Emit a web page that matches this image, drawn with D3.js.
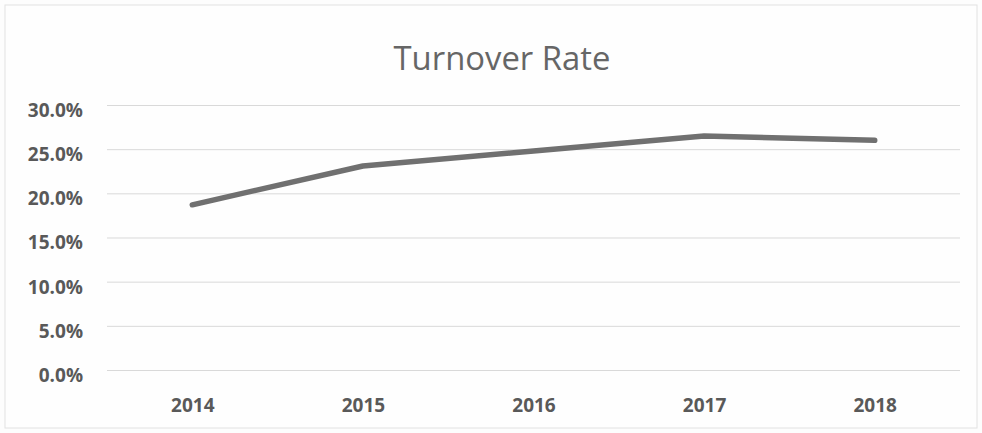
<!DOCTYPE html>
<html>
<head>
<meta charset="utf-8">
<script src="https://cdn.jsdelivr.net/npm/d3@7"></script>
<style>
  body { margin: 0; background: #fdfdfd; }
</style>
</head>
<body>
<div class="canvas"></div>
<script>
// data
const years = ['2014', '2015', '2016', '2017', '2018'];
const turnover = [0.187, 0.231, 0.248, 0.265, 0.260];
const yTicks = [0, 0.05, 0.10, 0.15, 0.20, 0.25, 0.30];

// 1. dimensions
const width = 982, height = 433;
const margin = {top: 105, right: 22, bottom: 63, left: 107};
const graphWidth = width - margin.left - margin.right;
const graphHeight = height - margin.top - margin.bottom;

// 2. svg
const svg = d3.select('.canvas')
    .append('svg')
    .attr('width', width)
    .attr('height', height)
    .style('font-family', '"Open Sans", sans-serif');

svg.append('rect')
    .attr('x', 5).attr('y', 5)
    .attr('width', width - 10).attr('height', height - 10)
    .attr('fill', '#fefefe')
    .attr('stroke', '#e2e2e2');

const graph = svg.append('g')
    .attr('transform', `translate(${margin.left},${margin.top})`);

// 3. scales
const x = d3.scalePoint().domain(years).range([0, graphWidth]).padding(0.5);
const y = d3.scaleLinear().domain([0, 0.30]).range([graphHeight, 0]);

// gridlines
graph.append('g')
    .call(d3.axisLeft(y).tickValues(yTicks).tickSize(-graphWidth).tickFormat(''))
    .call(g => g.select('.domain').remove())
    .call(g => g.selectAll('line').attr('stroke', '#d9d9d9').attr('stroke-width', 1));

// y labels
graph.append('g')
    .call(d3.axisLeft(y).tickValues(yTicks).tickSize(0).tickPadding(24).tickFormat(d3.format('.1%')))
    .call(g => g.select('.domain').remove())
    .call(g => g.selectAll('text')
        .attr('fill', '#595959')
        .attr('font-family', '"Open Sans", sans-serif')
        .attr('font-size', 19)
        .attr('font-weight', 700)
        .attr('dy', '0.6em'));

// x labels
graph.append('g')
    .attr('transform', `translate(0,${graphHeight})`)
    .call(d3.axisBottom(x).tickSize(0).tickPadding(29))
    .call(g => g.select('.domain').remove())
    .call(g => g.selectAll('text')
        .attr('fill', '#595959')
        .attr('font-family', '"Open Sans", sans-serif')
        .attr('font-size', 19)
        .attr('font-weight', 700));

// line
const line = d3.line()
    .x((d, i) => x(years[i]))
    .y(d => y(d));

graph.append('path')
    .datum(turnover)
    .attr('d', line)
    .attr('fill', 'none')
    .attr('stroke', '#707070')
    .attr('stroke-width', 5.5)
    .attr('stroke-linejoin', 'round')
    .attr('stroke-linecap', 'round');

// title
const title = svg.append('text')
    .attr('x', 502)
    .attr('y', 70)
    .attr('text-anchor', 'middle')
    .attr('fill', '#666666')
    .attr('font-family', '"Open Sans", sans-serif')
    .attr('font-size', 30)
    .text('Turnover Rate');
// fit title to the width seen in the chart
const tw = title.node().getComputedTextLength();
title.attr('font-size', 30 * 217 / tw);
</script>
</body>
</html>
